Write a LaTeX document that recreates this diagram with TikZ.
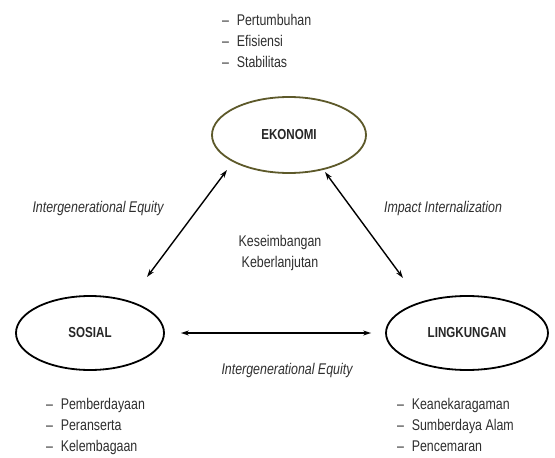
\documentclass[tikz,border=0pt]{standalone}
\usepackage{fontspec}
\setmainfont[FakeStretch=0.8]{Liberation Sans}
\usepackage{tikz}
\usetikzlibrary{positioning,arrows.meta,shapes.geometric}

\begin{document}
\begin{tikzpicture}[x=1pt,y=-1pt,every node/.style={font=\fontsize{15.5}{21}\selectfont,text=black!82}]
\tikzset{
  pilar/.style={ellipse,draw=black,line width=1.8pt,inner sep=0pt,text=black!85,
    font=\fontsize{14.5}{18}\selectfont\bfseries},
  twoway/.style={{Stealth[length=8pt,width=5pt]}-{Stealth[length=8pt,width=5pt]},line width=1.4pt},
  daftar/.style={anchor=north west,align=left,inner sep=0pt},
  ket/.style={font=\fontsize{15.5}{21}\selectfont\itshape}
}
\useasboundingbox (0,0) rectangle (555,458);
% three pillars
\node[pilar,draw=olive!55!black,minimum width=154pt,minimum height=76pt] (ekonomi) at (289,135) {EKONOMI};
\node[pilar,minimum width=148pt,minimum height=74pt] (sosial) at (90,333) {SOSIAL};
\node[pilar,minimum width=162pt,minimum height=74pt] (lingkungan) at (467,333) {LINGKUNGAN};
% lists
\node[daftar] (listeko) at (222,14) {--\enspace Pertumbuhan\\--\enspace Efisiensi\\--\enspace Stabilitas};
\node[daftar] (listsos) at (46,398) {--\enspace Pemberdayaan\\--\enspace Peranserta\\--\enspace Kelembagaan};
\node[daftar] (listlin) at (397,398) {--\enspace Keanekaragaman\\--\enspace Sumberdaya Alam\\--\enspace Pencemaran};
% arrows
\coordinate (ekokiri) at (227,170);
\coordinate (soskanan) at (147,277);
\coordinate (ekokanan) at (325,172);
\coordinate (linkiri) at (403,278);
\draw[twoway] (ekokiri) -- (soskanan);
\draw[twoway] (ekokanan) -- (linkiri);
\draw[twoway,shorten <=16pt,shorten >=14pt] (sosial) -- (lingkungan);
% labels
\node[ket] (iekiri) at (98,208) {Intergenerational Equity};
\node[ket] (impact) at (443,208) {Impact Internalization};
\node[align=center] (tengah) at (280,253) {Keseimbangan\\Keberlanjutan};
\node[ket] (iebawah) at (287,370) {Intergenerational Equity};
\end{tikzpicture}
\end{document}
